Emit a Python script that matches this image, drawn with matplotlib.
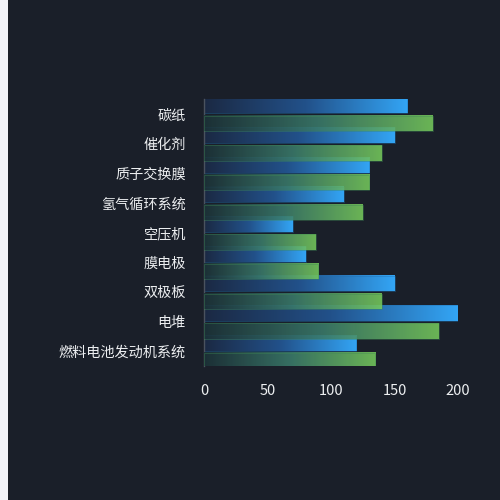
import matplotlib.pyplot as plt
import numpy as np
from matplotlib.colors import LinearSegmentedColormap
from matplotlib.patches import Rectangle

plt.rcParams["font.family"] = ["Noto Sans CJK SC", "DejaVu Sans"]

# categories listed top to bottom, as in the picture
categories = ["碳纸", "催化剂", "质子交换膜", "氢气循环系统", "空压机",
              "膜电极", "双极板", "电堆", "燃料电池发动机系统"]
blue_values = [160, 150, 130, 110, 70, 80, 150, 200, 120]
green_values = [180, 140, 130, 125, 88, 90, 140, 185, 135]
x_ticks = [0, 50, 100, 150, 200]

BG = "#1a1f29"
BLUE_STOPS = ["#1b2943", "#22518a", "#33a5f5"]
GREEN_STOPS = ["#1c3238", "#3a7a6a", "#76c95c"]
BAR_H = 0.52


def gradient(stops, alpha=1.0, n=256):
    """RGBA row going through the given colour stops."""
    cmap = LinearSegmentedColormap.from_list("g", stops)
    row = cmap(np.linspace(0, 1, n))
    row[:, 3] = alpha
    return row[None, :, :]


def draw_bars(ax, values, offset, stops, edge, alpha, z):
    for i, v in enumerate(values):
        y0 = i + offset - BAR_H / 2
        ax.imshow(gradient(stops, alpha), extent=(0, v, y0 + BAR_H, y0),
                  aspect="auto", interpolation="bilinear", zorder=z)
        ax.add_patch(Rectangle((0, y0), v, BAR_H, facecolor="none",
                               edgecolor=edge, linewidth=0.7, alpha=0.4,
                               zorder=z + 0.1))


fig = plt.figure(figsize=(5, 5), dpi=100, facecolor=BG)
# light strip on the left edge
fig.patches.append(Rectangle((0, 0), 0.016, 1, transform=fig.transFigure,
                             facecolor="#f2f3f8", edgecolor="none"))

ax = fig.add_axes([0.408, 0.268, 0.508, 0.534])
ax.set_facecolor(BG)

draw_bars(ax, blue_values, -0.28, BLUE_STOPS, "#1f6fb0", 1.0, 2)
draw_bars(ax, green_values, 0.32, GREEN_STOPS, "#3f8a55", 0.88, 3)

ax.set_xlim(0, 200)
ax.set_ylim(len(categories) - 0.5, -0.5)
ax.set_yticks(range(len(categories)))
ax.set_yticklabels(categories, fontweight="medium")
ax.set_xticks(x_ticks)

for side in ["top", "right", "bottom"]:
    ax.spines[side].set_visible(False)
ax.spines["left"].set_color("#4a525e")
ax.spines["left"].set_linewidth(1)

ax.tick_params(axis="y", length=0, pad=13, labelsize=10.2, labelcolor="#eceef0")
ax.tick_params(axis="x", length=0, pad=13, labelsize=10.5, labelcolor="#eceef0")

fig.savefig("out.png", dpi=100, facecolor=BG)
plt.close(fig)
